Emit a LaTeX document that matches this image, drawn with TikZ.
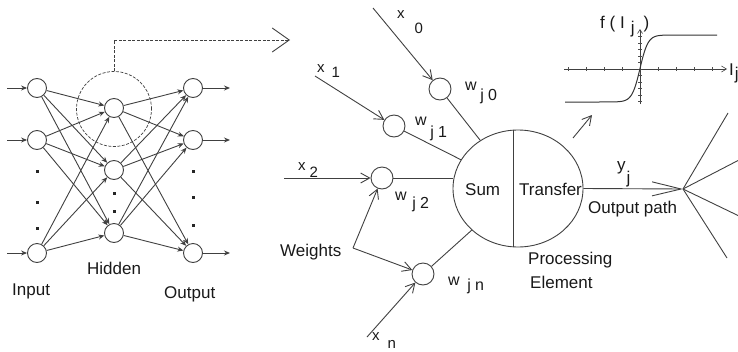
\documentclass[tikz,border=0pt]{standalone}
\usepackage{fontspec}
\setmainfont{Liberation Sans}
\usetikzlibrary{arrows.meta,shapes.geometric}
\newcommand{\sublbl}[4]{#1\hspace{#4}\raisebox{-#3}{#2}}
\begin{document}
\begin{tikzpicture}[x=1pt,y=-1pt,
  ln/.style={draw=black!75, line width=0.9pt},
  neuron/.style={circle, draw=black!75, line width=0.9pt, minimum size=19pt, inner sep=0},
  wnode/.style={circle, draw=black!75, line width=0.9pt, minimum size=22pt, inner sep=0},
  txt/.style={font=\fontsize{17}{20}\selectfont, text=black!90, inner sep=0, anchor=base west},
  wtxt/.style={font=\fontsize{16}{19}\selectfont, text=black!90, inner sep=0, anchor=base west},
  stxt/.style={font=\fontsize{15}{18}\selectfont, text=black!90, inner sep=0, anchor=base west},
  net/.style={ln, -{Stealth[length=6pt,width=5pt]}},
  barb/.style={ln, -{Straight Barb[length=9pt,width=10pt]}},
  tick/.style={draw=black!70, line width=0.5pt}
]
\useasboundingbox (0,0) rectangle (738,351);

% ---------- left network ----------
\foreach \n/\y in {1/88,2/140,3/253}{
  \node[neuron] (i\n) at (37,\y) {};
  \node[neuron] (o\n) at (193,\y) {};
}
\foreach \n/\y in {1/108,2/170,3/233}{
  \node[neuron] (h\n) at (114,\y) {};
}
\foreach \n/\y in {1/88,2/140,3/253}{
  \coordinate (ia\n) at (7,\y);
  \coordinate (oa\n) at (230,\y);
  \draw[net] (ia\n) -- (i\n);
  \draw[net] (o\n) -- (oa\n);
}
\foreach \a in {1,2,3}{
  \foreach \b in {1,2,3}{
    \draw[net] (i\a) -- (h\b);
    \draw[net] (h\a) -- (o\b);
  }
}
% dots
\foreach \x/\y in {37/171,37/202,37/228,114/193,114/211,193/171,193/197,193/225}{
  \fill[black!85] (\x-1.5,\y-1.5) rectangle (\x+1.5,\y+1.5);
}
\node[circle, draw=black!75, line width=0.7pt, dash pattern=on 3pt off 1.5pt, minimum size=75pt, inner sep=0] (hc) at (114,109) {};
\coordinate (dk) at (114,40);
\coordinate (dt) at (290,40);
\draw[ln, dash pattern=on 3pt off 1.5pt, -{Straight Barb[length=17pt,width=24pt]}] (hc.north) -- (dk) -- (dt);

\node[txt] (hid) at (87,274) {Hidden};
\node[txt] (inp) at (12,295) {Input};
\node[txt] (outp) at (164,298) {Output};

% ---------- processing element ----------
\node[ellipse, draw=black!75, line width=0.9pt, minimum width=130pt, minimum height=117pt, inner sep=0] (pe) at (518,188.5) {};
\draw[ln] ([xshift=-5pt]pe.north) -- ([xshift=-5pt]pe.south);
\node[txt] (sum) at (465,195) {Sum};
\node[txt] (tr) at (519,195) {Transfer};

\node[wnode] (w0) at (440,89) {};
\node[wnode] (w1) at (394,126) {};
\node[wnode] (w2) at (382,178) {};
\node[wnode] (wn) at (423,274) {};

\coordinate (x0s) at (373,8);
\coordinate (x1s) at (315,76);
\coordinate (x2s) at (284,178);
\coordinate (xns) at (367,337);
\draw[barb] (x0s) -- (w0);
\draw[barb] (x1s) -- (w1);
\draw[barb] (x2s) -- (w2);
\draw[barb] (xns) -- (wn);

\draw[ln] (w0) -- (pe);
\draw[ln] (w1) -- (pe);
\draw[ln] (w2.east) -- (w2.east -| pe.west);
\draw[ln] (wn) -- (pe);

\node[stxt] (lx0) at (397,18) {\sublbl{x}{0}{15pt}{10pt}};
\node[stxt] (lx1) at (317,72) {\sublbl{x}{1}{5pt}{7pt}};
\node[stxt] (lx2) at (298,170) {\sublbl{x}{2}{7pt}{4pt}};
\node[stxt] (lxn) at (372,340) {\sublbl{x}{n}{8pt}{8pt}};

\node[wtxt] (lw0) at (465,90) {\sublbl{w}{j 0}{10pt}{3.5pt}};
\node[wtxt] (lw1) at (415,125) {\sublbl{w}{j 1}{12pt}{3.5pt}};
\node[wtxt] (lw2) at (395,200) {\sublbl{w}{j 2}{8pt}{5.5pt}};
\node[wtxt] (lwn) at (448,285) {\sublbl{w}{j n}{5pt}{7.5pt}};

\node[txt] (wt) at (280,256) {Weights};
\coordinate (wc) at (353,248);
\draw[barb] (wc) -- (w2);
\draw[barb] (wc) -- (wn);

\node[txt] (proc) at (528,264) {Processing};
\node[txt] (elem) at (530,288) {Element};

% ---------- output ----------
\coordinate (fan) at (683,189);
\draw[ln, -{Straight Barb[length=29pt,width=14pt]}] (pe.east) -- (fan);
\coordinate (f1) at (728,113);
\coordinate (f2) at (739,160);
\coordinate (f3) at (739,216);
\coordinate (f4) at (727,258);
\foreach \f in {f1,f2,f3,f4}{ \draw[ln] (fan) -- (\f); }
\node[txt] (yj) at (617,170) {\sublbl{y}{j}{13pt}{1pt}};
\node[txt] (opath) at (588,213) {Output path};

% ---------- transfer function ----------
\coordinate (sa1) at (573,138);
\coordinate (sa2) at (592,115);
\draw[barb] (sa1) -- (sa2);

\coordinate (ha) at (564,69);
\coordinate (hb) at (727,69);
\coordinate (va) at (640,104);
\coordinate (vb) at (640,29);
\draw[ln, line width=0.6pt, -{Straight Barb[length=5pt,width=6pt]}] (ha) -- (hb);
\draw[ln, line width=0.6pt, -{Straight Barb[length=4pt,width=5pt]}] (va) -- (vb);
\foreach \t in {-4,...,4}{ \draw[tick] (640+18*\t,67) -- (640+18*\t,71); }
\foreach \t in {-5,...,5}{ \draw[tick] (638,69+6.5*\t) -- (642,69+6.5*\t); }
\draw[draw=black!80, line width=1pt] plot[domain=-75:77, samples=150, smooth] ({640+\x},{68.5-33.5*tanh(\x/8)});
\node[txt] (fl) at (600,28) {f ( I\hspace{6pt}\raisebox{-5pt}{j}\hspace{9pt})};
\node[txt] (il) at (729,75) {\sublbl{I}{j}{4pt}{1pt}};
\end{tikzpicture}
\end{document}
